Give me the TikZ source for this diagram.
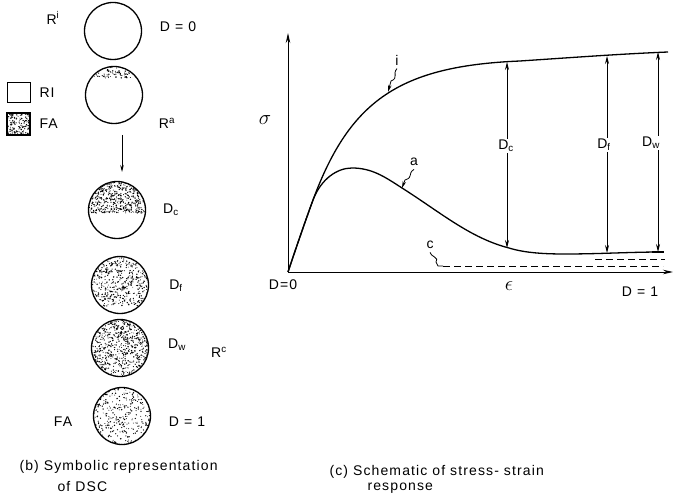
\documentclass[tikz,border=0pt]{standalone}
\usepackage{fontspec}
\setmainfont[LetterSpace=8]{Liberation Sans}
\usetikzlibrary{arrows.meta}

% tecky ve vyseci kruhu: stred x, stred y, polomer, spodni mez, pocet
\newcommand{\stipple}[5]{%
  \begin{scope}
    \clip (#1,#2) circle (#3pt);
    \foreach \k in {1,...,#5}
      \fill ({#1+#3*rand},{#2-#3+(#4-#2+#3)*rnd}) circle ({0.4pt+0.4pt*rnd});
  \end{scope}}

\begin{document}
\begin{tikzpicture}[x=1pt,y=-1pt,
    every node/.style={font=\fontsize{14}{16}\selectfont},
    disc/.style={circle,draw,line width=1.3pt,minimum size=57pt,inner sep=0pt},
    curve/.style={line width=1.3pt},
    big/.style={font=\fontsize{21}{22}\selectfont},
    dim/.style={line width=0.8pt,{Stealth[length=8pt,width=4pt]}-{Stealth[length=8pt,width=4pt]}},
    ptr/.style={line width=0.8pt,-{Stealth[length=7pt,width=3.5pt]}}]

    \useasboundingbox (0,0) rectangle (676,502);
    \pgfmathsetseed{5}

    % Tecky (FA) v kruzich
    \stipple{114}{95}{28}{78}{110}
    \stipple{117}{210}{28}{213}{520}
    \stipple{120}{285}{28}{306}{480}
    \stipple{120}{348}{28}{377}{760}
    \stipple{122}{416}{28}{445}{380}

    % Kruhy
    \node[disc] (c-ri) at (113,31) {};
    \node[disc] (c-ra) at (114,95) {};
    \node[disc] (c-dc) at (117,210) {};
    \node[disc] (c-df) at (120,285) {};
    \node[disc] (c-dw) at (120,348) {};
    \node[disc] (c-d1) at (122,416) {};

    % Popisky kruhu
    \node (l-ri) at (53,18) {R\textsuperscript{i}};
    \node (l-d0) at (178,27) {D = 0};
    \node (l-ra) at (167,123) {R\textsuperscript{a}};
    \node (l-dc) at (171,210) {D\textsubscript{c}};
    \node (l-df) at (176,286) {D\textsubscript{f}};
    \node (l-dw) at (177,345) {D\textsubscript{w}};
    \node (l-rc) at (219,352) {R\textsuperscript{c}};
    \node (l-fa) at (63,422) {FA};
    \node (l-d1) at (187,422) {D = 1};

    % Sipka mezi R^a a D_c
    \coordinate (arr-s) at (122,135);
    \coordinate (arr-e) at (122,172);
    \draw[ptr] (arr-s) -- (arr-e);

    % Legenda
    \node[draw,line width=1pt,minimum width=23pt,minimum height=20pt,inner sep=0pt] (box-ri) at (18.5,93) {};
    \begin{scope}
      \clip (7,113) rectangle (30,135);
      \foreach \k in {1,...,150}
        \fill ({18.5+11.5*rand},{113+22*rnd}) circle ({0.4pt+0.4pt*rnd});
    \end{scope}
    \node[draw,line width=1.4pt,minimum width=23pt,minimum height=22pt,inner sep=0pt] (box-fa) at (18.5,124) {};
    \node[anchor=west] (t-ri) at (36,93) {RI};
    \node[anchor=west] (t-fa) at (36,124) {FA};

    % Osy
    \coordinate (org) at (288,272);
    \coordinate (x-end) at (673,272);
    \coordinate (y-end) at (288,33);
    \draw[line width=1pt,-{Stealth[length=10pt,width=4.5pt]}] (org) -- (x-end);
    \draw[line width=1pt,-{Stealth[length=10pt,width=4.5pt]}] (org) -- (y-end);

    % Krivka i
    \draw[curve] (org) .. controls (296,248) and (306,219) .. (313,200)
        .. controls (350,100) and (400,66) .. (520,61)
        .. controls (580,57) and (620,54) .. (668,52);
    % Krivka a
    \draw[curve] (org) .. controls (296,248) and (306,219) .. (313,200)
        .. controls (321,179) and (337,168) .. (352,168)
        .. controls (372,168) and (385,177) .. (402,188)
        .. controls (440,212) and (470,238) .. (509,248)
        .. controls (525,253) and (545,254) .. (565,254)
        .. controls (600,254) and (630,252) .. (662,252);
    % Krivka c
    \coordinate (c-s) at (443,266);
    \coordinate (c-e) at (663,266);
    \draw[line width=0.9pt,dash pattern=on 7pt off 4pt] (c-s) -- (c-e);
    \coordinate (c2-s) at (595,259);
    \coordinate (c2-e) at (665,259);
    \draw[line width=0.9pt,dash pattern=on 7pt off 4pt] (c2-s) -- (c2-e);

    % Popisky krivek
    \node (t-i) at (397,60) {i};
    \node (t-a) at (414,162) {a};
    \node (t-c) at (430,245) {c};
    \coordinate (i-pt) at (388,92);
    \coordinate (a-pt) at (402,188);
    \draw[ptr] (t-i.south) .. controls (392,74) and (399,78) .. (391,81) -- (i-pt);
    \draw[ptr] (t-a.south) .. controls (407,174) and (414,177) .. (405,180) -- (a-pt);
    \draw[line width=0.8pt] (t-c.south) .. controls (430,256) and (440,258) .. (436,262) -- (438,266) -- (c-s);

    % Vzdalenosti D_c, D_f, D_w
    \coordinate (dc-t) at (507,62);
    \coordinate (dc-b) at (507,248);
    \coordinate (df-t) at (607,56);
    \coordinate (df-b) at (607,253);
    \coordinate (dw-t) at (658,52);
    \coordinate (dw-b) at (658,252);
    \draw[dim] (dc-t) -- (dc-b);
    \draw[dim] (df-t) -- (df-b);
    \draw[dim] (dw-t) -- (dw-b);
    \draw[line width=1.2pt] (652,252) -- (664,252);
    \node[fill=white,inner sep=1pt] (t-dc) at (506,146) {D\textsubscript{c}};
    \node[fill=white,inner sep=1pt] (t-df) at (604,145) {D\textsubscript{f}};
    \node[fill=white,inner sep=1pt] (t-dw) at (651,143) {D\textsubscript{w}};

    % Popisky os
    \node[big] (t-sig) at (265,120) {$\sigma$};
    \node (t-d0) at (283,285) {D=0};
    \node[big] (t-eps) at (509,286) {$\epsilon$};
    \node (t-d1) at (640,292) {D = 1};

    % Titulky
    \node[anchor=west] (cap-b1) at (16,467) {(b) Symbolic representation};
    \node[anchor=west] (cap-b2) at (54,486) {of DSC};
    \node[anchor=west] (cap-c1) at (326,472) {(c) Schematic of stress- strain};
    \node[anchor=west] (cap-c2) at (364,488) {response};
\end{tikzpicture}
\end{document}
